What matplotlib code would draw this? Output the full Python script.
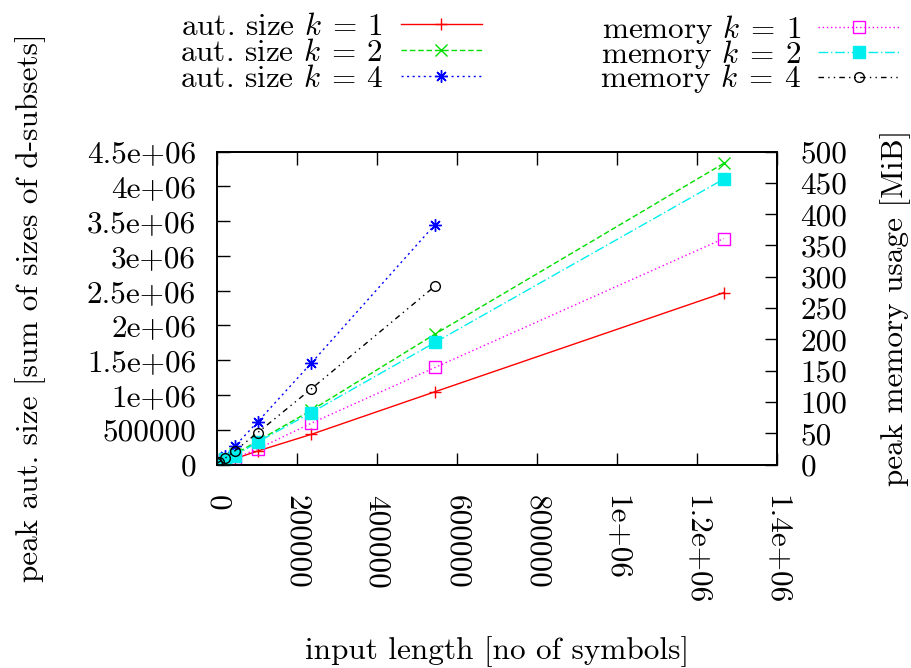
import numpy as np
import matplotlib
matplotlib.use("Agg")
from matplotlib import pyplot as plt

plt.rcParams['font.family'] = ['cmr10', 'DejaVu Serif']
plt.rcParams['mathtext.fontset'] = 'cm'
plt.rcParams['axes.unicode_minus'] = False
plt.rcParams['axes.formatter.use_mathtext'] = True

# input lengths (no of symbols)
n = [1000, 5000, 20000, 45000, 102000, 236000, 545000, 1267000]
# peak automaton size (sum of sizes of d-subsets)
aut_k1 = [2000, 9500, 38000, 85000, 194000, 434000, 1046000, 2470000]
aut_k2 = [3500, 16000, 63000, 150000, 340000, 780000, 1875000, 4330000]
aut_k4 = [5000, 25000, 120000, 266000, 615000, 1460000, 3450000]
# peak memory usage [MiB]
mem_k1 = [1, 2, 7, 10, 25, 66, 155, 361]
mem_k2 = [1, 3, 8, 14, 36, 83, 195, 456]
mem_k4 = [2, 4, 10, 22, 51, 121, 285]

xticks = [0, 200000, 400000, 600000, 800000, 1000000, 1200000, 1400000]
xlabels = ['0', '200000', '400000', '600000', '800000', '1e+06', '1.2e+06', '1.4e+06']
yticks = [0, 500000, 1000000, 1500000, 2000000, 2500000, 3000000, 3500000, 4000000, 4500000]
ylabels = ['0', '500000', '1e+06', '1.5e+06', '2e+06', '2.5e+06', '3e+06', '3.5e+06', '4e+06', '4.5e+06']
y2ticks = list(range(0, 501, 50))

fs = 22.5
fig = plt.figure(figsize=(9.12, 6.68), dpi=100)
ax = fig.add_axes([217/912, 1-464.5/668, 560/912, 313/668])
ax2 = ax.twinx()

h = []
h += ax.plot(n, aut_k1, color='#ff0000', lw=1, marker='+', ms=9, mew=1,
             label=r'aut. size $k\:=\:1$')
h += ax.plot(n, aut_k2, color='#00dd00', lw=1, ls=(0, (4, 2)), marker='x', ms=8, mew=1,
             label=r'aut. size $k\:=\:2$')
h += ax.plot(n[:len(aut_k4)], aut_k4, color='#0000ff', lw=1, ls=(0, (1.5, 2.5)),
             marker=(8, 2, 0), ms=9, mew=1, label=r'aut. size $k\:=\:4$')
h += ax2.plot(n, mem_k1, color='#ff00ff', lw=1, ls=(0, (1, 2)), marker='s', ms=8,
              mfc='none', mew=1, label=r'memory $k\:=\:1$')
h += ax2.plot(n, mem_k2, color='#00eeee', lw=1, ls=(0, (7, 2, 1, 2)), marker='s', ms=8,
              label=r'memory $k\:=\:2$')
h += ax2.plot(n[:len(mem_k4)], mem_k4, color='black', lw=1, ls=(0, (4, 3, 1, 3, 1, 3)),
              marker='o', ms=7, mfc='none', mew=1, label=r'memory $k\:=\:4$')

ax.set_xlim(0, 1400000)
ax.set_ylim(0, 4500000)
ax2.set_ylim(0, 500)

ax.set_xticks(xticks)
ax.set_xticklabels(xlabels, rotation=-90, fontsize=fs)
ax.set_yticks(yticks)
ax.set_yticklabels(ylabels, fontsize=fs)
ax2.set_yticks(y2ticks)
ax2.set_yticklabels([str(v) for v in y2ticks], fontsize=fs)

ax.tick_params(axis='x', direction='in', length=9, width=1, top=True, pad=22)
ax.tick_params(axis='y', direction='in', length=9, width=1, right=False, pad=15)
ax2.tick_params(axis='y', direction='in', length=9, width=1, pad=17)
for a in (ax, ax2):
    for s in a.spines.values():
        s.set_linewidth(1.3)

ax.set_ylabel('peak aut. size [sum of sizes of d-subsets]', fontsize=fs)
ax.yaxis.set_label_coords(-0.305, 0.5)
ax2.set_ylabel('peak memory usage [MiB]', fontsize=fs)
ax2.yaxis.set_label_coords(1.184, 0.5)
ax.set_xlabel('input length [no of symbols]', fontsize=fs)
ax.xaxis.set_label_coords(0.5, -0.548)

# two key columns, gnuplot style: text first, then the sample
leg_kw = dict(loc='upper left', frameon=False, markerfirst=False, fontsize=fs,
              handlelength=2.6, handletextpad=0.55, borderpad=0, borderaxespad=0)
fig.legend(handles=h[:3], bbox_to_anchor=(0.197, 0.981), labelspacing=-0.06, **leg_kw)
fig.legend(handles=h[3:], bbox_to_anchor=(0.658, 0.981), labelspacing=-0.26, **leg_kw)

fig.savefig('out.png', dpi=100)
